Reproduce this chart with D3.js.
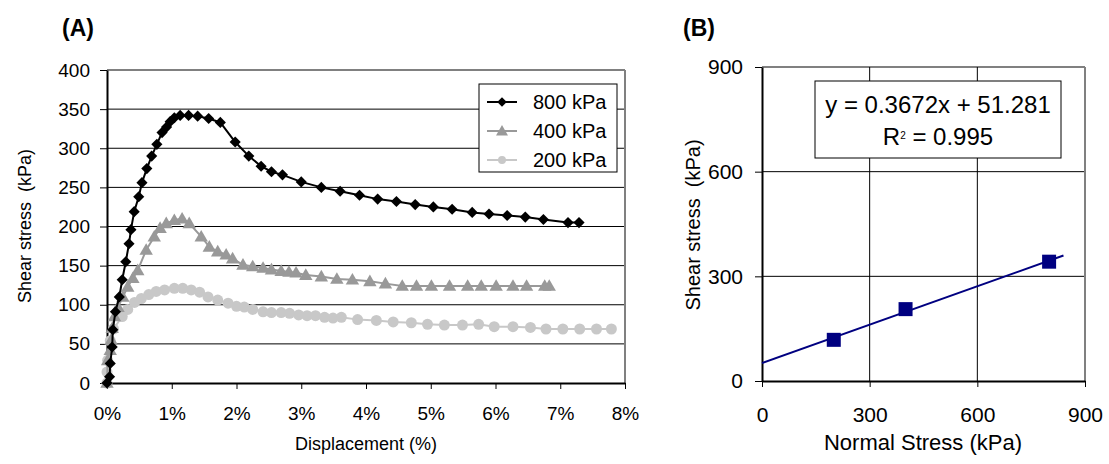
<!DOCTYPE html>
<html>
<head>
<meta charset="utf-8">
<script src="https://cdn.jsdelivr.net/npm/d3@7"></script>
<style>
  body { margin: 0; background: #fff; }
  text { font-family: "Liberation Sans", Arial, sans-serif; }
</style>
</head>
<body>
<script>
// Panel A: displacement (%) vs shear stress (kPa)
var x800 = [0, 0.04, 0.05, 0.08, 0.09, 0.13, 0.19, 0.235, 0.29, 0.34, 0.37, 0.42, 0.49, 0.54, 0.615, 0.69, 0.77, 0.85, 0.92, 0.975, 1.04, 1.13, 1.26, 1.40, 1.57, 1.75, 1.98, 2.19, 2.38, 2.54, 2.71, 3.0, 3.31, 3.60, 3.90, 4.18, 4.47, 4.76, 5.04, 5.33, 5.64, 5.90, 6.18, 6.46, 6.74, 7.12, 7.29];
var y800 = [0, 8, 25, 46, 68, 91, 110, 132, 155, 178, 196, 219, 238, 256, 274, 290, 305, 320, 327, 334, 339, 342, 342, 341, 338, 333, 308, 290, 277, 270, 266, 257, 250, 245, 240, 235, 232, 228, 225, 222, 218, 216, 214, 212, 209, 205, 205];

var x400 = [0, 0.01, 0.05, 0.065, 0.08, 0.115, 0.17, 0.245, 0.32, 0.40, 0.475, 0.605, 0.73, 0.82, 0.915, 1.04, 1.16, 1.27, 1.455, 1.58, 1.71, 1.84, 1.94, 2.10, 2.25, 2.41, 2.54, 2.69, 2.81, 2.92, 3.07, 3.31, 3.55, 3.79, 4.06, 4.30, 4.56, 4.78, 5.01, 5.29, 5.57, 5.78, 6.01, 6.27, 6.48, 6.76, 6.83];
var y400 = [0, 29, 42, 55, 70, 85, 97, 110, 123, 134, 144, 170, 187, 198, 204, 208, 210, 204, 187, 174, 168, 164, 159, 151, 149, 147, 145, 143, 142, 141, 138, 136, 133, 132, 130, 127, 124, 124, 124, 124, 124, 124, 124, 124, 124, 124, 124];

var x200 = [0, 0, 0.01, 0.05, 0.10, 0.235, 0.32, 0.425, 0.53, 0.645, 0.76, 0.89, 1.04, 1.17, 1.30, 1.43, 1.56, 1.71, 1.87, 2.0, 2.12, 2.25, 2.41, 2.54, 2.69, 2.82, 2.96, 3.09, 3.22, 3.36, 3.49, 3.62, 3.87, 4.16, 4.42, 4.70, 4.95, 5.21, 5.49, 5.74, 5.98, 6.27, 6.54, 6.78, 7.04, 7.30, 7.56, 7.79];
var y200 = [0, 14, 29, 54, 69, 85, 94, 103, 108, 113, 117, 119, 121, 121, 119, 116, 110, 106, 102, 98, 97, 94, 91, 90, 90, 89, 87, 86, 86, 84, 83, 84, 81, 80, 78, 77, 75, 74, 74, 75, 72, 72, 71, 69, 69, 69, 69, 69];

var seriesNames = ["800 kPa", "400 kPa", "200 kPa"];
var seriesColors = ["#000000", "#999999", "#c8c8c8"];
var seriesShapes = [d3.symbolSquare, d3.symbolTriangle, d3.symbolCircle];

var xTicksA = [0, 1, 2, 3, 4, 5, 6, 7, 8];
var yTicksA = [0, 50, 100, 150, 200, 250, 300, 350, 400];

// Panel B: normal stress vs peak shear stress
var normalStress = [200, 400, 800];
var peakShear = [118, 206, 342];
var fitSlope = 0.3672, fitIntercept = 51.281, fitEnd = 840;
var ticksB = [0, 300, 600, 900];

var svg = d3.select("body").append("svg")
    .attr("width", 1109)
    .attr("height", 464);

function styleAxis(a, size) {
    a.select(".domain").attr("stroke", "#000").attr("stroke-width", 2);
    a.selectAll(".tick line").attr("stroke", "#000");
    a.selectAll(".tick text").attr("font-size", size).attr("fill", "#000")
        .style("font-family", "'Liberation Sans', Arial, sans-serif");
}

// ---------- panel A ----------
var xA = d3.scaleLinear().domain([0, 8]).range([107, 625]);
var yA = d3.scaleLinear().domain([0, 400]).range([383, 70]);

var gA = svg.append("g");

gA.selectAll("line.grid")
    .data(yTicksA.slice(1))
    .enter().append("line")
    .attr("x1", xA(0)).attr("x2", xA(8))
    .attr("y1", d => yA(d)).attr("y2", d => yA(d))
    .attr("stroke", d => d == 400 ? "#808080" : "#000")
    .attr("stroke-width", d => d == 400 ? 2 : 1);

gA.append("line")
    .attr("x1", xA(8)).attr("x2", xA(8))
    .attr("y1", yA(400)).attr("y2", yA(0))
    .attr("stroke", "#808080").attr("stroke-width", 2);

var axA = gA.append("g")
    .attr("transform", "translate(0," + yA(0) + ")")
    .call(d3.axisBottom(xA).tickValues(xTicksA).tickFormat(d => d + "%").tickSize(6).tickSizeOuter(0).tickPadding(18));
var ayA = gA.append("g")
    .attr("transform", "translate(" + xA(0) + ",0)")
    .call(d3.axisLeft(yA).tickValues(yTicksA).tickSize(7).tickSizeOuter(0).tickPadding(10));
styleAxis(axA, 19);
styleAxis(ayA, 19);

var allX = [x800, x400, x200], allY = [y800, y400, y200];
var line = d3.line().x(d => xA(d[0])).y(d => yA(d[1]));
var markerSize = [62, 78, 95];

// draw lightest first so black sits on top
[2, 1, 0].forEach(function(i) {
    var pts = d3.zip(allX[i], allY[i]);
    gA.append("path")
        .datum(pts)
        .attr("d", line)
        .attr("fill", "none")
        .attr("stroke", seriesColors[i])
        .attr("stroke-width", 2);
    var sym = d3.symbol().type(seriesShapes[i]).size(markerSize[i]);
    gA.selectAll(null)
        .data(pts)
        .enter().append("path")
        .attr("d", sym)
        .attr("transform", d => "translate(" + xA(d[0]) + "," + (yA(d[1]) + (i == 1 ? 1 : 0)) + ")" + (i == 0 ? " rotate(45)" : ""))
        .attr("fill", seriesColors[i]);
});

// legend
var leg = gA.append("g").attr("transform", "translate(479,84)");
leg.append("rect").attr("width", 138).attr("height", 88)
    .attr("fill", "#fff").attr("stroke", "#000").attr("stroke-width", 1);
seriesNames.forEach(function(name, i) {
    var ly = 18 + i * 29;
    leg.append("line").attr("x1", 8).attr("x2", 38).attr("y1", ly).attr("y2", ly)
        .attr("stroke", seriesColors[i]).attr("stroke-width", 2);
    leg.append("path")
        .attr("d", d3.symbol().type(seriesShapes[i]).size(i == 2 ? 50 : i == 1 ? 62 : 45))
        .attr("transform", "translate(23," + (ly + (i == 1 ? 1 : 0)) + ")" + (i == 0 ? " rotate(45)" : ""))
        .attr("fill", seriesColors[i]);
    leg.append("text").attr("x", 54).attr("y", ly + 7)
        .attr("font-size", 20).text(name);
});

gA.append("text").attr("x", 62).attr("y", 36)
    .attr("font-size", 23).attr("font-weight", "bold").text("(A)");
gA.append("text")
    .attr("transform", "translate(31,226) rotate(-90)")
    .attr("text-anchor", "middle").attr("font-size", 18)
    .attr("xml:space", "preserve")
    .text("Shear stress  (kPa)");
gA.append("text").attr("x", 366).attr("y", 450)
    .attr("text-anchor", "middle").attr("font-size", 18)
    .text("Displacement (%)");

// ---------- panel B ----------
var xB = d3.scaleLinear().domain([0, 900]).range([762, 1085]);
var yB = d3.scaleLinear().domain([0, 900]).range([381, 67]);
var gB = svg.append("g");

gB.selectAll(null).data(ticksB.slice(1)).enter().append("line")
    .attr("x1", xB(0)).attr("x2", xB(900))
    .attr("y1", d => yB(d)).attr("y2", d => yB(d))
    .attr("stroke", d => d == 900 ? "#808080" : "#000")
    .attr("stroke-width", d => d == 900 ? 2 : 1);
gB.selectAll(null).data(ticksB.slice(1)).enter().append("line")
    .attr("x1", d => xB(d)).attr("x2", d => xB(d))
    .attr("y1", yB(0)).attr("y2", yB(900))
    .attr("stroke", d => d == 900 ? "#808080" : "#000")
    .attr("stroke-width", d => d == 900 ? 2 : 1);

var axB = gB.append("g")
    .attr("transform", "translate(0," + yB(0) + ")")
    .call(d3.axisBottom(xB).tickValues(ticksB).tickSize(6).tickSizeOuter(0).tickPadding(20));
var ayB = gB.append("g")
    .attr("transform", "translate(" + xB(0) + ",0)")
    .call(d3.axisLeft(yB).tickValues(ticksB).tickSize(7).tickSizeOuter(0).tickPadding(12));
styleAxis(axB, 21);
styleAxis(ayB, 21);

gB.append("line")
    .attr("x1", xB(0)).attr("y1", yB(fitIntercept))
    .attr("x2", xB(fitEnd)).attr("y2", yB(fitSlope * fitEnd + fitIntercept))
    .attr("stroke", "#000080").attr("stroke-width", 2);

gB.selectAll(null).data(d3.zip(normalStress, peakShear)).enter().append("rect")
    .attr("x", d => xB(d[0]) - 7).attr("y", d => yB(d[1]) - 7)
    .attr("width", 14).attr("height", 14)
    .attr("fill", "#000080");

var eq = gB.append("g").attr("transform", "translate(815,81)");
eq.append("rect").attr("width", 246).attr("height", 77)
    .attr("fill", "#fff").attr("stroke", "#000").attr("stroke-width", 1);
eq.append("text").attr("x", 123).attr("y", 32).attr("text-anchor", "middle")
    .attr("font-size", 24).text("y = 0.3672x + 51.281");
var r2 = eq.append("text").attr("x", 123).attr("y", 64).attr("text-anchor", "middle")
    .attr("font-size", 24);
r2.append("tspan").text("R");
r2.append("tspan").attr("font-size", 10).attr("dy", -6).text("2");
r2.append("tspan").attr("dy", 6).text(" = 0.995");

gB.append("text").attr("x", 683).attr("y", 36)
    .attr("font-size", 23).attr("font-weight", "bold").text("(B)");
gB.append("text")
    .attr("transform", "translate(700,225) rotate(-90)")
    .attr("text-anchor", "middle").attr("font-size", 20)
    .attr("xml:space", "preserve")
    .text("Shear stress  (kPa)");
gB.append("text").attr("x", 923).attr("y", 450)
    .attr("text-anchor", "middle").attr("font-size", 22)
    .text("Normal Stress (kPa)");
</script>
</body>
</html>
